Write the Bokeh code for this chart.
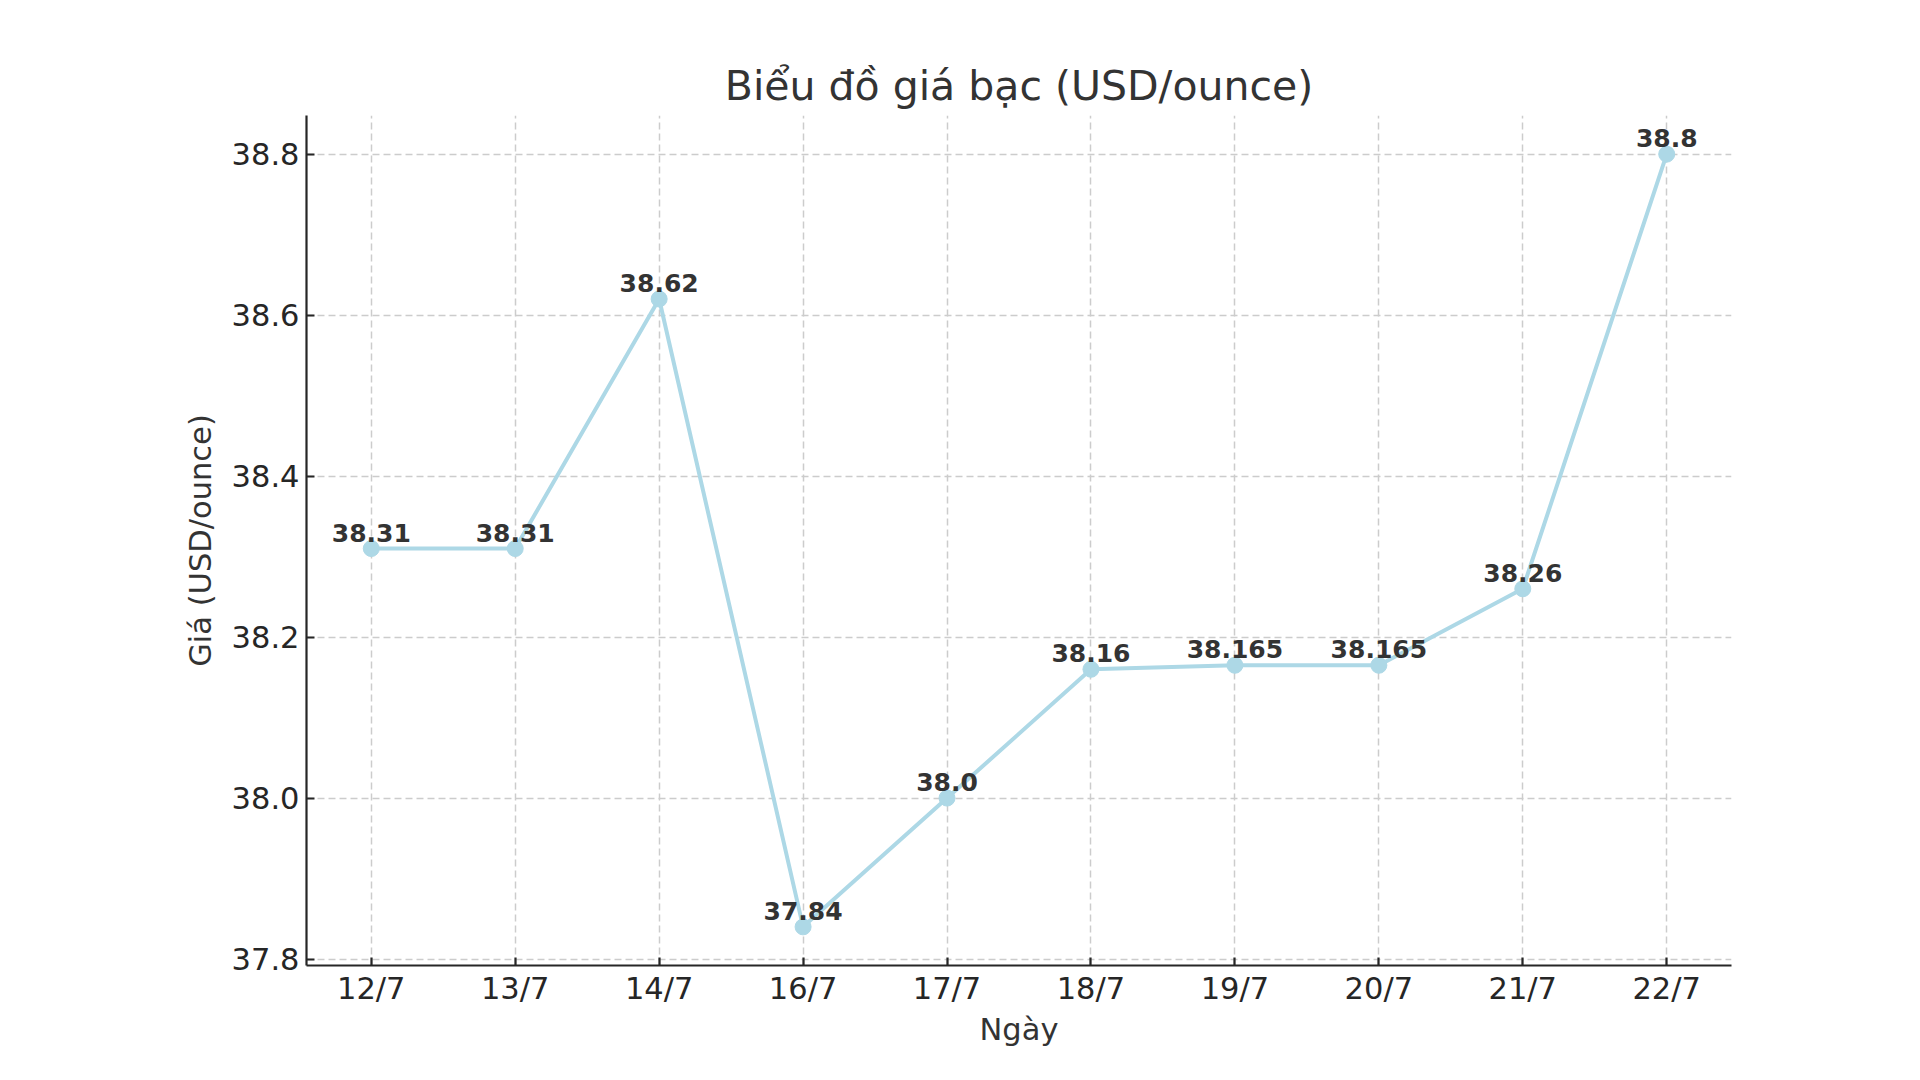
from bokeh.plotting import figure
from bokeh.models import Range1d, FixedTicker, PrintfTickFormatter, ColumnDataSource
from bokeh.core.properties import value
from bokeh.embed import file_html
from bokeh.resources import INLINE

# ---- data ----
dates = ["12/7", "13/7", "14/7", "16/7", "17/7", "18/7", "19/7", "20/7", "21/7", "22/7"]
prices = [38.31, 38.31, 38.62, 37.84, 38.0, 38.16, 38.165, 38.165, 38.26, 38.8]
y_ticks = [37.8, 38.0, 38.2, 38.4, 38.6, 38.8]
title_text = "Biểu đồ giá bạc (USD/ounce)"
x_label = "Ngày"
y_label = "Giá (USD/ounce)"

FONT = "DejaVu Sans"
LINE_COLOR = "#ADD8E6"
TEXT_COLOR = "#333333"

idx = list(range(len(dates)))
labels = [str(v) for v in prices]
src = ColumnDataSource(dict(x=idx, y=prices, label=labels))

pad = 0.45
ymin, ymax = min(prices), max(prices)
margin = 0.05 * (ymax - ymin)

p = figure(width=1904, height=1064, output_backend="svg", toolbar_location=None,
           x_range=Range1d(-pad, len(dates) - 1 + pad),
           y_range=Range1d(ymin - margin, ymax + margin),
           min_border_left=306, min_border_right=173,
           min_border_top=115, min_border_bottom=99)

p.outline_line_color = None
p.background_fill_color = "white"
p.border_fill_color = "white"

# title
p.title.text = title_text
p.title.text_font = FONT
p.title.text_font_size = "41px"
p.title.text_font_style = "normal"
p.title.text_color = TEXT_COLOR
p.title.align = "center"
p.title.standoff = 12

# axes
for ax in (p.xaxis[0], p.yaxis[0]):
    ax.axis_line_color = "#262626"
    ax.axis_line_width = 2.2
    ax.major_tick_line_color = "#262626"
    ax.major_tick_line_width = 2.2
    ax.major_tick_in = 8
    ax.major_tick_out = 0
    ax.minor_tick_line_color = None
    ax.major_label_text_font = FONT
    ax.major_label_text_font_size = "30.5px"
    ax.major_label_text_color = "#262626"
    ax.axis_label_text_font = FONT
    ax.axis_label_text_font_size = "30.5px"
    ax.axis_label_text_font_style = "normal"
    ax.axis_label_text_color = TEXT_COLOR

p.xaxis.ticker = FixedTicker(ticks=idx)
p.xaxis.major_label_overrides = {i: d for i, d in zip(idx, dates)}
p.xaxis.axis_label = x_label
p.xaxis.major_label_standoff = 5
p.xaxis.axis_label_standoff = 3

p.yaxis.ticker = FixedTicker(ticks=y_ticks)
p.yaxis.formatter = PrintfTickFormatter(format="%.1f")
p.yaxis.axis_label = y_label
p.yaxis.major_label_standoff = 7
p.yaxis.axis_label_standoff = 11

# grid
for g in (p.xgrid[0], p.ygrid[0]):
    g.grid_line_color = "#cccccc"
    g.grid_line_width = 1.5
    g.grid_line_dash = "7 4"

# data
p.line("x", "y", source=src, line_color=LINE_COLOR, line_width=4)
p.scatter("x", "y", source=src, size=16, fill_color=LINE_COLOR, line_color=LINE_COLOR)
p.text("x", "y", text="label", source=src, text_font=value(FONT), text_font_style="bold",
       text_font_size="25px", text_align="center", text_baseline="alphabetic",
       y_offset=-16, text_color=TEXT_COLOR)

open("out.html", "w").write(file_html(p, INLINE))
